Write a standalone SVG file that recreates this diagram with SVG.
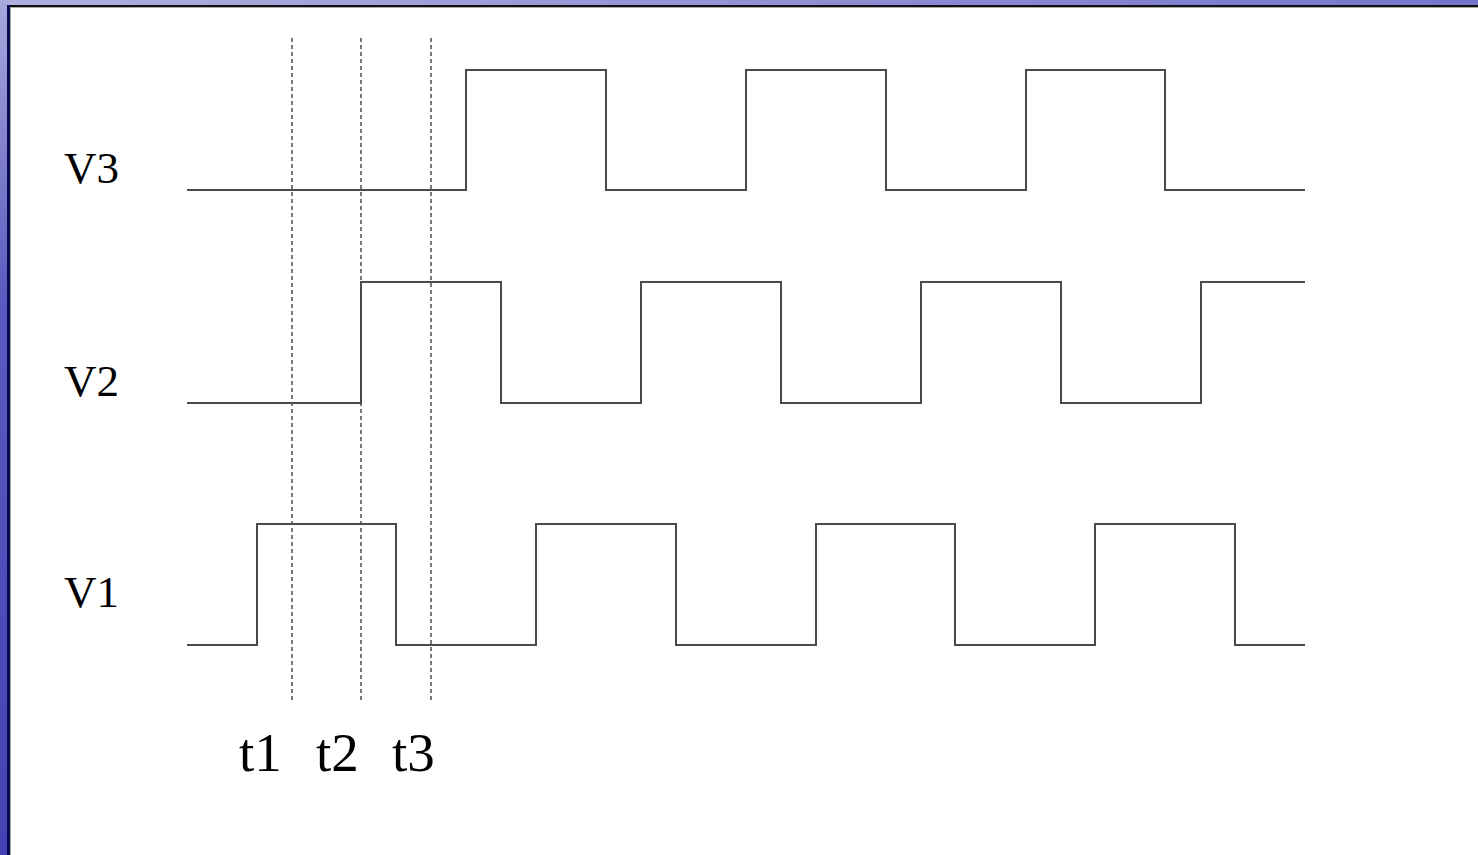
<svg xmlns="http://www.w3.org/2000/svg" width="1478" height="855" viewBox="0 0 1478 855">
<defs>
<linearGradient id="lg" x1="0" y1="0" x2="0" y2="1">
<stop offset="0" stop-color="#a8a8dc"/>
<stop offset="0.35" stop-color="#5a5ac0"/>
<stop offset="1" stop-color="#4242b4"/>
</linearGradient>
<linearGradient id="tg" x1="0" y1="0" x2="1" y2="0">
<stop offset="0" stop-color="#b0b0e0"/>
<stop offset="1" stop-color="#7474cc"/>
</linearGradient>
<style>
.w{fill:none;stroke:#4a4a4a;stroke-width:2}
.d{fill:none;stroke:#777;stroke-width:2;stroke-dasharray:4,3}
.l{font-family:"Liberation Serif",serif;fill:#000}
</style>
</defs>
<rect x="0" y="0" width="1478" height="855" fill="#fff"/>
<rect x="0" y="0" width="1478" height="6" fill="url(#tg)"/>
<rect x="0" y="0" width="8" height="855" fill="url(#lg)"/>
<rect x="8" y="5" width="1470" height="2" fill="#111"/>
<rect x="7" y="5" width="3" height="850" fill="#0a0a50"/>
<rect x="10" y="7" width="1468" height="1" fill="#aaa"/>
<rect x="10" y="7" width="1" height="848" fill="#aaa"/>

<g id="labels">
<text class="l" x="64" y="183" font-size="45">V3</text>
<text class="l" x="64" y="396" font-size="45">V2</text>
<text class="l" x="64" y="607" font-size="45">V1</text>
<text class="l" x="239" y="771" font-size="55">t1</text>
<text class="l" x="316" y="771" font-size="55">t2</text>
<text class="l" x="392" y="771" font-size="55">t3</text>
</g>

<g id="markers">
<line class="d" x1="292" y1="38" x2="292" y2="700"/>
<line class="d" x1="361" y1="38" x2="361" y2="700"/>
<line class="d" x1="431" y1="38" x2="431" y2="700"/>
</g>

<g id="V3">
<polyline class="w" points="187,190 466,190 466,70 606,70 606,190 746,190 746,70 886,70 886,190 1026,190 1026,70 1165,70 1165,190 1305,190"/>
</g>
<g id="V2">
<polyline class="w" points="187,403 361,403 361,282 501,282 501,403 641,403 641,282 781,282 781,403 921,403 921,282 1061,282 1061,403 1201,403 1201,282 1305,282"/>
</g>
<g id="V1">
<polyline class="w" points="187,645 257,645 257,524 396,524 396,645 536,645 536,524 676,524 676,645 816,645 816,524 955,524 955,645 1095,645 1095,524 1235,524 1235,645 1305,645"/>
</g>
</svg>
